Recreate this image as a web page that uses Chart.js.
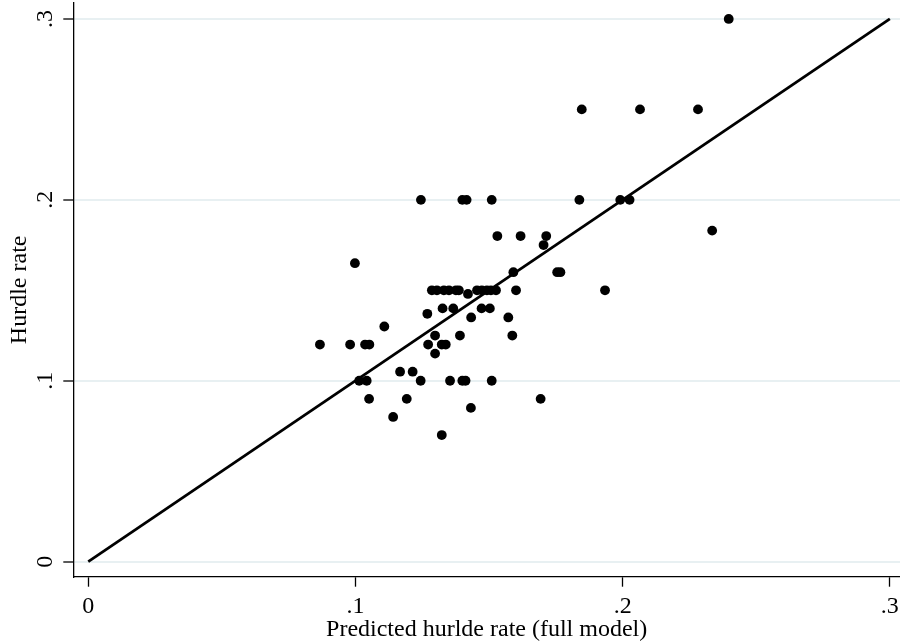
<!DOCTYPE html>
<html>
<head>
<meta charset="utf-8">
<script src="https://cdn.jsdelivr.net/npm/chart.js@4.4.1/dist/chart.umd.min.js"></script>
<style>
  html, body { margin: 0; padding: 0; background: #fff; }
  #wrap { width: 900px; height: 642px; }
</style>
</head>
<body>
<div id="wrap"><canvas id="chart" width="900" height="642"></canvas></div>
<script>
// predicted hurdle rate (x) and reported hurdle rate (y)
var predRate = [
  0.2397,
  0.1847, 0.2065, 0.2282,
  0.1245, 0.1400, 0.1416, 0.1510, 0.1838, 0.1991, 0.2026,
  0.2335,
  0.1531, 0.1618, 0.1714,
  0.1704,
  0.0998,
  0.1591, 0.1755, 0.1767,
  0.1286, 0.1305, 0.1331, 0.1350, 0.1376, 0.1387, 0.1455, 0.1473, 0.1492, 0.1507, 0.1526, 0.1421, 0.1601, 0.1934,
  0.1326, 0.1366, 0.1472, 0.1503,
  0.1269,
  0.1433, 0.1572,
  0.1108,
  0.1298, 0.1391, 0.1587,
  0.0867, 0.0980, 0.1036, 0.1052, 0.1272, 0.1323, 0.1338,
  0.1298,
  0.1167, 0.1214,
  0.1014, 0.1042, 0.1244, 0.1354, 0.1400, 0.1412, 0.1510,
  0.1051, 0.1192, 0.1693,
  0.1432,
  0.1141,
  0.1323
];
var hurdleRate = [
  0.300,
  0.250, 0.250, 0.250,
  0.200, 0.200, 0.200, 0.200, 0.200, 0.200, 0.200,
  0.183,
  0.180, 0.180, 0.180,
  0.175,
  0.165,
  0.160, 0.160, 0.160,
  0.150, 0.150, 0.150, 0.150, 0.150, 0.150, 0.150, 0.150, 0.150, 0.150, 0.150, 0.148, 0.150, 0.150,
  0.140, 0.140, 0.140, 0.140,
  0.137,
  0.135, 0.135,
  0.130,
  0.125, 0.125, 0.125,
  0.120, 0.120, 0.120, 0.120, 0.120, 0.120, 0.120,
  0.115,
  0.105, 0.105,
  0.100, 0.100, 0.100, 0.100, 0.100, 0.100, 0.100,
  0.090, 0.090, 0.090,
  0.085,
  0.080,
  0.070
];
// 45 degree reference line
var fitX = [0, 0.3];
var fitY = [0, 0.3];
var xTicks = [0, 0.1, 0.2, 0.3];
var yTicks = [0, 0.1, 0.2, 0.3];
var xTitle = 'Predicted hurlde rate (full model)';
var yTitle = 'Hurdle rate';

Chart.defaults.font.family = "'Liberation Serif', 'Times New Roman', serif";
Chart.defaults.font.size = 24;
Chart.defaults.color = '#000';

function fmtTick(v) {
  if (Math.abs(v) < 1e-9) return '0';
  return v.toFixed(1).replace(/^0/, '');
}

var scatterPts = predRate.map(function(x, i) { return {x: x, y: hurdleRate[i]}; });
var linePts = fitX.map(function(x, i) { return {x: x, y: fitY[i]}; });

var chart = new Chart(document.getElementById('chart'), {
  type: 'scatter',
  data: {
    datasets: [
      {
        data: scatterPts,
        backgroundColor: '#000',
        borderWidth: 0,
        pointRadius: 4.9,
        pointHoverRadius: 4.9,
        clip: false
      },
      {
        type: 'line',
        data: linePts,
        borderColor: '#000',
        borderWidth: 2.8,
        pointRadius: 0,
        fill: false
      }
    ]
  },
  options: {
    responsive: false,
    animation: false,
    events: [],
    // no automatic room for point radius, plot area goes right to the edge
    layout: { autoPadding: false, padding: { top: 3, left: 0, right: 0, bottom: 0 } },
    plugins: {
      legend: { display: false },
      tooltip: { enabled: false }
    },
    scales: {
      x: {
        type: 'linear',
        min: -0.0056,
        max: 0.3038,
        afterBuildTicks: function(s) { s.ticks = xTicks.map(function(v) { return {value: v}; }); },
        afterFit: function(s) { s.height = 65.3; s.paddingLeft = 0; s.paddingRight = 0; },
        border: { display: true, color: '#000', width: 1.3 },
        grid: { drawOnChartArea: false, drawTicks: true, tickLength: 10, tickColor: '#000', tickWidth: 1.3 },
        ticks: {
          padding: 8,
          maxRotation: 0,
          font: { size: 24, lineHeight: 1 },
          callback: function(v) { return fmtTick(v); }
        },
        title: {
          display: true,
          text: xTitle,
          font: { size: 24, lineHeight: 1 },
          padding: 0
        }
      },
      y: {
        type: 'linear',
        min: -0.0083,
        max: 0.3088,
        afterBuildTicks: function(s) { s.ticks = yTicks.map(function(v) { return {value: v}; }); },
        afterFit: function(s) { s.width = 73.3; s.paddingTop = 0; s.paddingBottom = 0; },
        border: { display: true, color: '#000', width: 1.3 },
        grid: { color: '#e8f0f2', lineWidth: 2, drawTicks: true, tickLength: 10, tickColor: '#000', tickWidth: 1.3 },
        ticks: {
          padding: 9,
          minRotation: 90,
          maxRotation: 90,
          crossAlign: 'center',
          font: { size: 24, lineHeight: 1 },
          callback: function(v) { return fmtTick(v); }
        },
        title: {
          display: true,
          text: yTitle,
          font: { size: 24, lineHeight: 1 },
          padding: { top: 8, bottom: 0 }
        }
      }
    }
  }
});
</script>
</body>
</html>
